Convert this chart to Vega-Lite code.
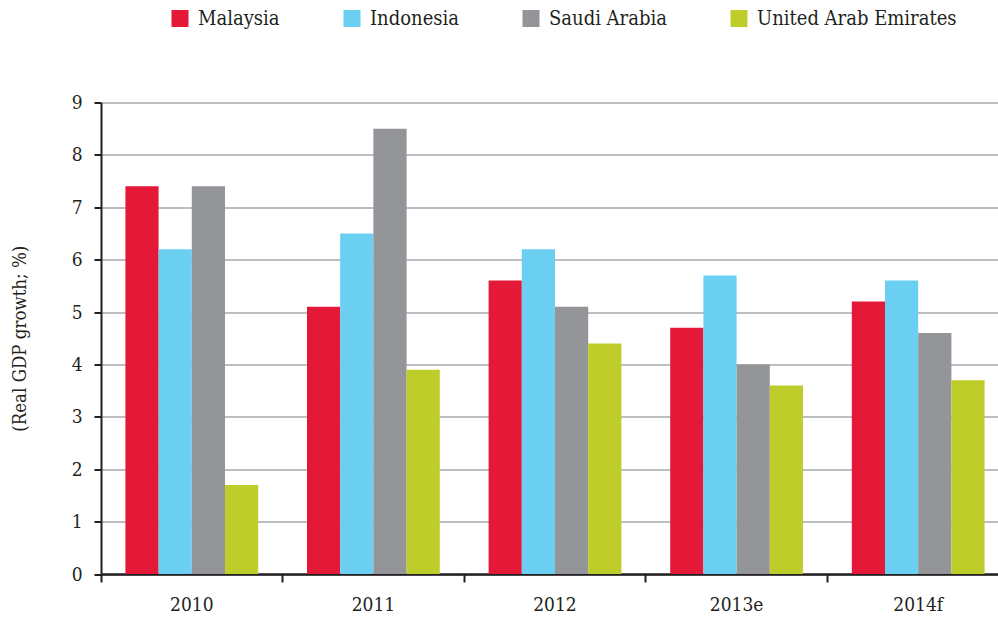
{
  "$schema": "https://vega.github.io/schema/vega-lite/v6.json",
  "autosize": "none",
  "padding": {"left": 101, "top": 102.5, "right": 0, "bottom": 44},
  "width": 897,
  "height": 471.5,
  "background": "white",
  "config": {
    "view": {"stroke": null},
    "font": "DejaVu Serif Condensed, DejaVu Serif",
    "axis": {"labelFont": "DejaVu Serif Condensed, DejaVu Serif", "titleFont": "DejaVu Serif Condensed, DejaVu Serif"},
    "legend": {"labelFont": "DejaVu Serif Condensed, DejaVu Serif"}
  },
  "data": {
    "values": [
      {"year": "2010", "country": "Malaysia", "value": 7.4},
      {"year": "2010", "country": "Indonesia", "value": 6.2},
      {"year": "2010", "country": "Saudi Arabia", "value": 7.4},
      {"year": "2010", "country": "United Arab Emirates", "value": 1.7},
      {"year": "2011", "country": "Malaysia", "value": 5.1},
      {"year": "2011", "country": "Indonesia", "value": 6.5},
      {"year": "2011", "country": "Saudi Arabia", "value": 8.5},
      {"year": "2011", "country": "United Arab Emirates", "value": 3.9},
      {"year": "2012", "country": "Malaysia", "value": 5.6},
      {"year": "2012", "country": "Indonesia", "value": 6.2},
      {"year": "2012", "country": "Saudi Arabia", "value": 5.1},
      {"year": "2012", "country": "United Arab Emirates", "value": 4.4},
      {"year": "2013e", "country": "Malaysia", "value": 4.7},
      {"year": "2013e", "country": "Indonesia", "value": 5.7},
      {"year": "2013e", "country": "Saudi Arabia", "value": 4.0},
      {"year": "2013e", "country": "United Arab Emirates", "value": 3.6},
      {"year": "2014f", "country": "Malaysia", "value": 5.2},
      {"year": "2014f", "country": "Indonesia", "value": 5.6},
      {"year": "2014f", "country": "Saudi Arabia", "value": 4.6},
      {"year": "2014f", "country": "United Arab Emirates", "value": 3.7}
    ]
  },
  "mark": {"type": "bar"},
  "encoding": {
    "x": {
      "field": "year",
      "type": "nominal",
      "sort": ["2010", "2011", "2012", "2013e", "2014f"],
      "scale": {"range": [0, 908], "paddingInner": 0, "paddingOuter": 0},
      "axis": {
        "title": null,
        "bandPosition": 0,
        "labelAngle": 0,
        "labelFontSize": 19,
        "labelColor": "#231f20",
        "labelPadding": 13,
        "tickSize": 8,
        "tickWidth": 2,
        "tickColor": "#231f20",
        "domainColor": "#231f20",
        "domainWidth": 2.5,
        "grid": false
      }
    },
    "xOffset": {
      "field": "country",
      "type": "nominal",
      "sort": ["Malaysia", "Indonesia", "Saudi Arabia", "United Arab Emirates"],
      "scale": {"paddingInner": 0, "paddingOuter": 0.735}
    },
    "y": {
      "field": "value",
      "type": "quantitative",
      "scale": {"domain": [0, 9], "nice": false},
      "axis": {
        "title": "(Real GDP growth; %)",
        "titleFontSize": 18.5,
        "titleFontWeight": "normal",
        "titleColor": "#231f20",
        "titleX": -82,
        "titleY": 235.75,
        "titleBaseline": "middle",
        "values": [0, 1, 2, 3, 4, 5, 6, 7, 8, 9],
        "labelFontSize": 19,
        "labelColor": "#231f20",
        "labelPadding": 12,
        "tickSize": 7,
        "tickWidth": 2,
        "tickColor": "#231f20",
        "domainColor": "#231f20",
        "domainWidth": 2,
        "gridColor": "#a7a9ac",
        "gridWidth": 1.5
      }
    },
    "color": {
      "field": "country",
      "type": "nominal",
      "scale": {
        "domain": ["Malaysia", "Indonesia", "Saudi Arabia", "United Arab Emirates"],
        "range": ["#e41937", "#6bcff2", "#939598", "#bfcd2b"]
      },
      "legend": {
        "orient": "none",
        "legendX": 69,
        "legendY": -94,
        "direction": "horizontal",
        "title": null,
        "symbolType": "square",
        "symbolSize": 289,
        "symbolStrokeWidth": 0,
        "symbolOpacity": 1,
        "labelFontSize": 20,
        "labelLimit": 400,
        "labelColor": "#231f20",
        "labelOffset": 8,
        "columnPadding": 62
      }
    }
  }
}
